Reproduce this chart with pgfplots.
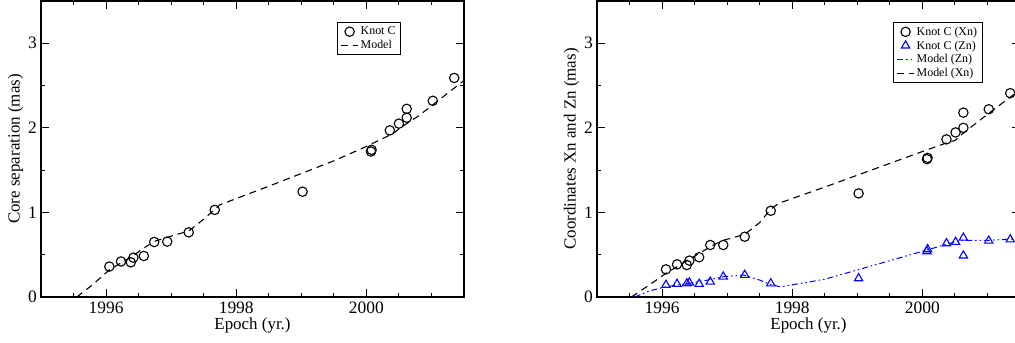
\documentclass[border=0pt]{standalone}
\usepackage{fontspec}
\setmainfont{Liberation Serif}
\usepackage{pgfplots}
\pgfplotsset{compat=1.18}
\pgfplotsset{
  myaxis/.style={
    width=423bp, height=296bp, scale only axis,
    xmin=1995, xmax=2001.5, ymin=0, ymax=3.5,
    xtick={1996,1998,2000},
    minor xtick={1995.5,1996.5,1997,1997.5,1998.5,1999,1999.5,2000.5,2001},
    ytick={0,1,2,3}, minor ytick={0.5,1.5,2.5},
    tick pos=both, tick align=inside,
    major tick length=8bp, minor tick length=4bp,
    every tick/.style={black, line width=1.1bp},
    axis line style={line width=1.5bp},
    /pgf/number format/assume math mode=true,
    /pgf/number format/1000 sep={},
    ticklabel style={font=\fontsize{17.5}{20}\selectfont},
    xticklabel style={inner sep=0pt, anchor=north, yshift=-4.5bp},
    yticklabel style={inner sep=0pt, anchor=east, xshift=-4bp},
    every axis x label/.style={at={([yshift=-28bp]axis description cs:0.5,0)}, anchor=center, font=\fontsize{17}{20}\selectfont},
    every axis y label/.style={at={([xshift=-25.5bp]axis description cs:0,0.5)}, rotate=90, anchor=center, font=\fontsize{17}{20}\selectfont},
    legend style={at={(axis description cs:0.70,0.929)}, anchor=north west, draw=black, line width=0.9bp,
      font=\fontsize{12}{14}\selectfont, inner xsep=3bp, inner ysep=2.5bp, row sep=0bp},
    legend cell align=left,
  },
  knot/.style={only marks, mark=o, mark size=4.7bp, mark options={line width=1.1bp, black, solid}, black},
  knotz/.style={only marks, mark=triangle, mark size=4.8bp, mark options={line width=1.1bp, blue, solid}, blue},
  modx/.style={no marks, black, line width=1.1bp, dash pattern=on 7bp off 5bp},
  modz/.style={no marks, blue, line width=1bp, dash pattern=on 6bp off 3bp on 1.5bp off 3bp on 1.5bp off 3bp},
}
\begin{document}
\begin{tikzpicture}
\begin{axis}[myaxis, xlabel={Epoch (yr.)}, ylabel={Core separation (mas)}]
\addplot[knot] coordinates {
(1996.05,0.36) (1996.23,0.42) (1996.38,0.41) (1996.42,0.465) (1996.58,0.485)
(1996.74,0.65) (1996.94,0.655) (1997.27,0.765) (1997.67,1.03) (1999.02,1.245)
(2000.07,1.72) (2000.08,1.74) (2000.36,1.97) (2000.5,2.05) (2000.62,2.12)
(2000.62,2.225) (2001.02,2.32) (2001.35,2.59)};
\addlegendentry{Knot C}
\addplot[modx] coordinates {
(1995.55,0) (1995.8,0.15) (1996.05,0.32) (1996.2,0.39) (1996.4,0.48) (1996.6,0.59)
(1996.75,0.66) (1997.0,0.72) (1997.27,0.78) (1997.5,0.92) (1997.75,1.09)
(1998.5,1.31) (1999.0,1.46) (1999.5,1.61) (2000.0,1.78) (2000.4,1.93)
(2000.6,2.04) (2000.8,2.14) (2001.0,2.26) (2001.5,2.56)};
\addlegendentry{Model}
\end{axis}
\begin{axis}[myaxis, at={(556bp,0)}, xlabel={Epoch (yr.)}, ylabel={Coordinates Xn and Zn (mas)}]
\addplot[knot] coordinates {
(1996.06,0.327) (1996.23,0.386) (1996.38,0.378) (1996.42,0.43) (1996.57,0.47)
(1996.74,0.615) (1996.94,0.615) (1997.27,0.713) (1997.67,1.02) (1999.02,1.225)
(2000.07,1.63) (2000.08,1.645) (2000.37,1.864) (2000.51,1.946) (2000.63,2.0)
(2000.63,2.18) (2001.02,2.22) (2001.35,2.41)};
\addlegendentry{Knot C (Xn)}
\addplot[knotz] coordinates {
(1996.06,0.142) (1996.23,0.154) (1996.38,0.16) (1996.42,0.17) (1996.57,0.154)
(1996.74,0.18) (1996.94,0.24) (1997.27,0.26) (1997.67,0.16) (1999.02,0.22)
(2000.07,0.54) (2000.08,0.564) (2000.37,0.634) (2000.51,0.65) (2000.63,0.70)
(2000.63,0.49) (2001.02,0.665) (2001.35,0.68)};
\addlegendentry{Knot C (Zn)}
\addplot[modz] coordinates {
(1995.58,0) (1995.8,0.07) (1996.05,0.12) (1996.4,0.16) (1996.7,0.2) (1996.94,0.24)
(1997.25,0.26) (1997.5,0.2) (1997.66,0.15) (1997.82,0.12) (1998.5,0.21)
(1999.0,0.32) (1999.5,0.43) (2000.0,0.54) (2000.4,0.63) (2000.6,0.67)
(2001.0,0.67) (2001.5,0.69)};
\addlegendentry{Model (Zn)}
\addplot[modx] coordinates {
(1995.53,0) (1995.8,0.14) (1996.06,0.28) (1996.3,0.39) (1996.58,0.52) (1996.8,0.62)
(1996.94,0.67) (1997.27,0.74) (1997.5,0.88) (1997.67,1.04) (1997.8,1.11)
(1998.5,1.30) (1999.0,1.44) (1999.5,1.58) (2000.0,1.72) (2000.4,1.83)
(2000.5,1.85) (2000.6,1.92) (2000.8,2.04) (2001.0,2.16) (2001.5,2.45)};
\addlegendentry{Model (Xn)}
\end{axis}
\pgfresetboundingbox
\path[use as bounding box] (-41bp,-46bp) rectangle (974bp,297bp);
\end{tikzpicture}
\end{document}
